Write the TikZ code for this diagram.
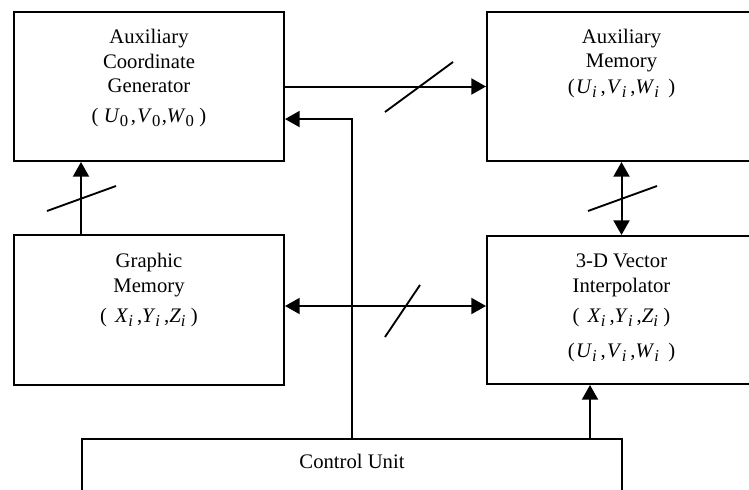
\documentclass[tikz,border=0pt]{standalone}
\usepackage{fontspec}
\setmainfont{Liberation Serif}
\usetikzlibrary{arrows.meta,calc}
% italic variable with a lowered, slightly smaller index
\newcommand\vsub[2]{\textit{#1}\raisebox{-3pt}{\fontsize{12.5}{13}\selectfont #2}}
\newcommand\ix{\textit{i}}
\begin{document}
\begin{tikzpicture}[x=0.75pt,y=-0.75pt,
  box/.style={draw,line width=1.5pt,rectangle,inner sep=0pt},
  lbl/.style={anchor=base,inner sep=0pt,font=\fontsize{15.5}{18}\selectfont},
  conn/.style={line width=1.5pt},
  busmark/.style={line width=1.4pt},
  >={Triangle[length=11pt,width=12pt]}]
\useasboundingbox (0,0) rectangle (749,489);
\clip (0,0) rectangle (749,489);

% blocks
\node[box,minimum width=202.5pt,minimum height=111.75pt] (acg) at (149,86.5) {};
\node[box,minimum width=201.75pt,minimum height=111.75pt] (am) at (621.5,86.5) {};
\node[box,minimum width=202.5pt,minimum height=112.5pt] (gm) at (149,310) {};
\node[box,minimum width=201.75pt,minimum height=111pt] (vi) at (621.5,310) {};
\node[box,minimum width=405pt,minimum height=60.75pt] (cu) at (352,479.5) {};

% block texts
\node[lbl] (acg1) at (149,43) {Auxiliary};
\node[lbl] (acg2) at (149,68) {Coordinate};
\node[lbl] (acg3) at (149,92) {Generator};
\node[lbl] (acg4) at (149,122) {(\hspace{4pt}\vsub{U}{0}\hspace{2pt},\hspace{1pt}\vsub{V}{0}\hspace{1pt},\vsub{W}{0}\hspace{4pt})};

\node[lbl] (am1) at (621.5,43) {Auxiliary};
\node[lbl] (am2) at (621.5,67) {Memory};
\node[lbl] (am3) at (621.5,93) {(\hspace{1pt}\vsub{U}{\ix}\hspace{3pt},\hspace{1pt}\vsub{V}{\ix}\hspace{3pt},\vsub{W}{\ix}\hspace{7pt})};

\node[lbl] (gm1) at (149,267) {Graphic};
\node[lbl] (gm2) at (149,292) {Memory};
\node[lbl] (gm3) at (149,322) {(\hspace{6pt}\vsub{X}{\ix}\hspace{3pt},\vsub{Y}{\ix}\hspace{3pt},\vsub{Z}{\ix}\hspace{4pt})};

\node[lbl] (vi1) at (621.5,267) {3-D Vector};
\node[lbl] (vi2) at (621.5,292) {Interpolator};
\node[lbl] (vi3) at (621.5,322) {(\hspace{6pt}\vsub{X}{\ix}\hspace{3pt},\vsub{Y}{\ix}\hspace{3pt},\vsub{Z}{\ix}\hspace{4pt})};
\node[lbl] (vi4) at (621.5,357) {(\hspace{1pt}\vsub{U}{\ix}\hspace{3pt},\hspace{1pt}\vsub{V}{\ix}\hspace{3pt},\vsub{W}{\ix}\hspace{7pt})};

\node[lbl] (cu1) at (352,468) {Control Unit};

% connectors
\draw[conn,->] (acg.east) -- (am.west);
\draw[conn,->] (cu.north) |- ([yshift=-24.4pt]acg.east);
\draw[conn,->] (gm.north -| cu.west) -- (acg.south -| cu.west);
\draw[conn,<->] ([yshift=3pt]gm.east) -- ([yshift=3pt]vi.west);
\draw[conn,<->] (am.south) -- (vi.north);
\coordinate (cuout) at ([xshift=-24.75pt]cu.north east);
\draw[conn,->] (cuout) -- (cuout |- vi.south);

% bus width marks
\draw[busmark] (385,112) -- (453,62);
\draw[busmark] (47,211) -- (116,186);
\draw[busmark] (385,337) -- (420,285);
\draw[busmark] (588,211) -- (657,186);
\end{tikzpicture}
\end{document}
